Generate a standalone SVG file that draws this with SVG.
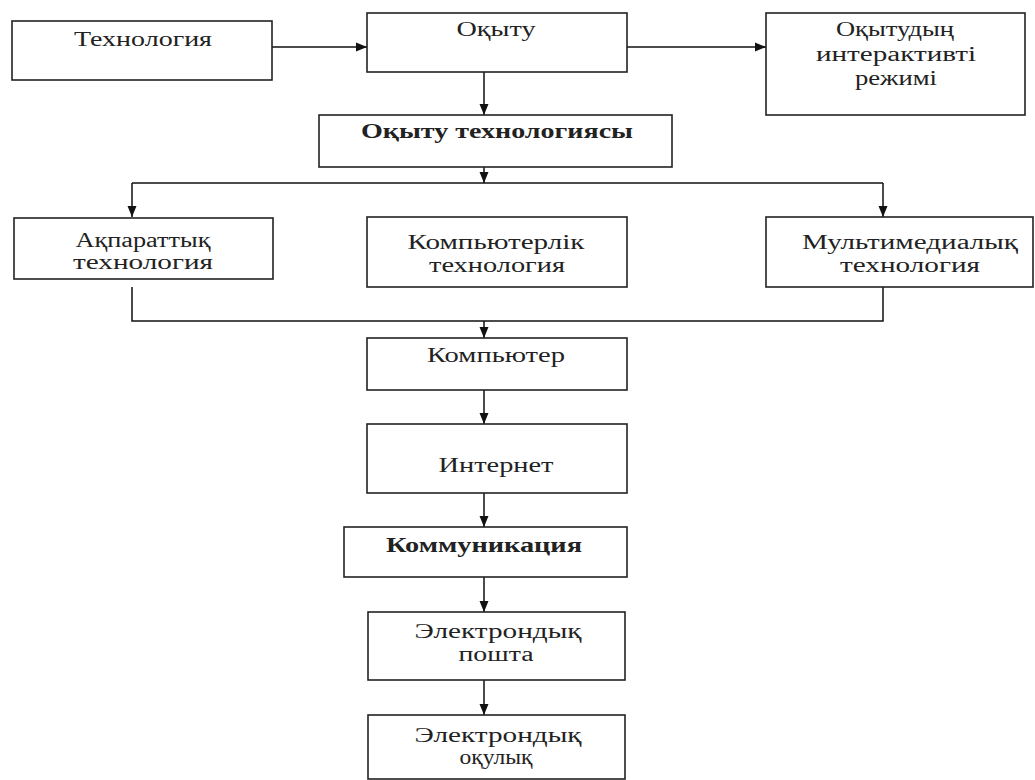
<svg xmlns="http://www.w3.org/2000/svg" width="1035" height="780" viewBox="0 0 1035 780">
<defs>
<marker id="ah" markerUnits="userSpaceOnUse" markerWidth="12" markerHeight="12" viewBox="0 0 12 12" refX="11" refY="6" orient="auto">
<path d="M0,1.5 L11,6 L0,10.5 Z" fill="#111"/>
</marker>
<style>
.box{fill:#fff;stroke:#222;stroke-width:1.6}
.t{font-family:"Liberation Serif","Times New Roman",serif;font-size:20px;fill:#222;text-anchor:middle}
.b{font-weight:bold}
.c{fill:none;stroke:#111;stroke-width:1.5}
.a{marker-end:url(#ah)}
</style>
</defs>
<rect width="1035" height="780" fill="#fff"/>
<g id="connectors">
<path class="c a" d="M272,47 H367"/>
<path class="c a" d="M627,47 H766"/>
<path class="c a" d="M484,63 V115"/>
<path class="c a" d="M484,167 V183"/>
<path class="c" d="M132,183 H883"/>
<path class="c a" d="M132,183 V217"/>
<path class="c a" d="M883,183 V217"/>
<path class="c" d="M132,287 V321 H883 V287"/>
<path class="c a" d="M484,321 V338"/>
<path class="c a" d="M484,390 V424"/>
<path class="c a" d="M484,493 V527"/>
<path class="c a" d="M484,577 V612"/>
<path class="c a" d="M484,680 V715"/>
</g>
<g id="n-tekhnologiya">
<rect class="box" x="12" y="21" width="260" height="59"/>
<text class="t" x="143" y="46" textLength="138" lengthAdjust="spacingAndGlyphs">Технология</text>
</g>
<g id="n-okytu">
<rect class="box" x="367" y="13" width="260" height="59"/>
<text class="t" x="496" y="36" textLength="79" lengthAdjust="spacingAndGlyphs">Оқыту</text>
</g>
<g id="n-interaktiv">
<rect class="box" x="766" y="13" width="259" height="102"/>
<text class="t" x="895" y="36" textLength="118" lengthAdjust="spacingAndGlyphs">Оқытудың</text>
<text class="t" x="896" y="61" textLength="160" lengthAdjust="spacingAndGlyphs">интерактивті</text>
<text class="t" x="896" y="85" textLength="82" lengthAdjust="spacingAndGlyphs">режимі</text>
</g>
<g id="n-okytu-tekh">
<rect class="box" x="319" y="115" width="353" height="52"/>
<text class="t b" x="497" y="138" textLength="272" lengthAdjust="spacingAndGlyphs">Оқыту технологиясы</text>
</g>
<g id="n-akparattyk">
<rect class="box" x="14" y="218" width="259" height="61"/>
<text class="t" x="143" y="247" textLength="135" lengthAdjust="spacingAndGlyphs">Ақпараттық</text>
<text class="t" x="143" y="269" textLength="140" lengthAdjust="spacingAndGlyphs">технология</text>
</g>
<g id="n-kompyuterlik">
<rect class="box" x="367" y="217" width="260" height="70"/>
<text class="t" x="496" y="249" textLength="177" lengthAdjust="spacingAndGlyphs">Компьютерлік</text>
<text class="t" x="497" y="272" textLength="136" lengthAdjust="spacingAndGlyphs">технология</text>
</g>
<g id="n-multimedia">
<rect class="box" x="766" y="217" width="267" height="70"/>
<text class="t" x="910" y="249" textLength="216" lengthAdjust="spacingAndGlyphs">Мультимедиалық</text>
<text class="t" x="910" y="272" textLength="140" lengthAdjust="spacingAndGlyphs">технология</text>
</g>
<g id="n-kompyuter">
<rect class="box" x="367" y="338" width="260" height="52"/>
<text class="t" x="496" y="362" textLength="138" lengthAdjust="spacingAndGlyphs">Компьютер</text>
</g>
<g id="n-internet">
<rect class="box" x="367" y="424" width="260" height="69"/>
<text class="t" x="496" y="472" textLength="115" lengthAdjust="spacingAndGlyphs">Интернет</text>
</g>
<g id="n-kommunikatsiya">
<rect class="box" x="344" y="527" width="283" height="50"/>
<text class="t b" x="484" y="552" textLength="196" lengthAdjust="spacingAndGlyphs">Коммуникация</text>
</g>
<g id="n-posh">
<rect class="box" x="368" y="612" width="257" height="68"/>
<text class="t" x="498" y="638" textLength="167" lengthAdjust="spacingAndGlyphs">Электрондық</text>
<text class="t" x="496" y="661" textLength="75" lengthAdjust="spacingAndGlyphs">пошта</text>
</g>
<g id="n-okulyk">
<rect class="box" x="368" y="715" width="257" height="64"/>
<text class="t" x="498" y="742" textLength="167" lengthAdjust="spacingAndGlyphs">Электрондық</text>
<text class="t" x="496" y="764" textLength="73" lengthAdjust="spacingAndGlyphs">оқулық</text>
</g>
</svg>
